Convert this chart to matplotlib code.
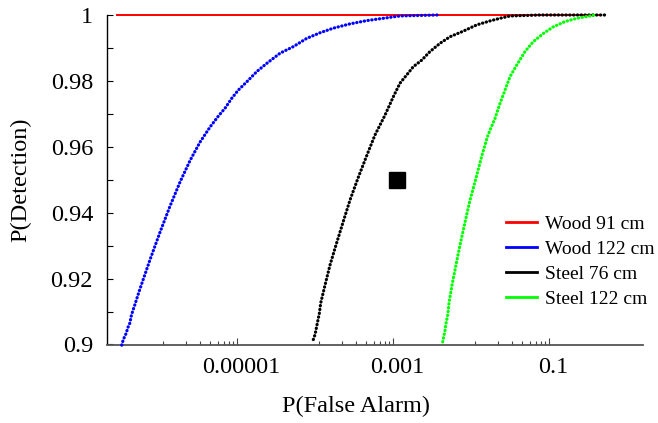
import numpy as np
import matplotlib
matplotlib.use("Agg")
import matplotlib.pyplot as plt
from matplotlib.lines import Line2D

# ---------------- data ----------------
series_names = ["Wood 91 cm", "Wood 122 cm", "Steel 76 cm", "Steel 122 cm"]
series_colors = ["#ff0000", "#0000ff", "#000000", "#00ff00"]

# log10 of P(False Alarm) and P(Detection) for each ROC curve
wood91_logpfa = [-6.59, -0.40]
wood91_pd = [1.0, 1.0]

wood122_logpfa = [-6.529, -6.509, -6.474, -6.449, -6.423, -6.410, -6.388, -6.363, -6.346,
                  -6.295, -6.167, -6.038, -5.910, -5.782, -5.654, -5.526, -5.397, -5.291,
                  -5.205, -5.119, -5.035, -4.927, -4.799, -4.671, -4.500, -4.329, -4.158,
                  -3.987, -3.817, -3.603, -3.388, -3.176, -2.962, -2.487]
wood122_pd = [0.8998, 0.9015, 0.9033, 0.9052, 0.9066, 0.9084, 0.9102, 0.9119, 0.9132,
              0.9169, 0.9257, 0.9341, 0.9420, 0.9493, 0.9558, 0.9614, 0.9660, 0.9693,
              0.9717, 0.9747, 0.9772, 0.9797, 0.9828, 0.9853, 0.9884, 0.9904, 0.9929,
              0.9946, 0.9960, 0.9973, 0.9983, 0.9990, 0.9997, 1.0]

steel76_logpfa = [-4.073, -4.051, -4.022, -4.009, -3.996, -3.978, -3.923, -3.859, -3.782,
                  -3.692, -3.603, -3.500, -3.385, -3.282, -3.154, -3.047, -2.962, -2.876,
                  -2.791, -2.683, -2.577, -2.449, -2.321, -2.150, -1.978, -1.808, -1.679,
                  -1.551, -1.167, -0.333]
steel76_pd = [0.9015, 0.9030, 0.9064, 0.9079, 0.9094, 0.9126, 0.9180, 0.9241, 0.9302,
              0.9371, 0.9438, 0.9505, 0.9575, 0.9636, 0.9696, 0.9752, 0.9793, 0.9818,
              0.9843, 0.9863, 0.9889, 0.9914, 0.9934, 0.9951, 0.9970, 0.9982, 0.9990,
              0.9997, 1.0, 1.0]

steel122_logpfa = [-2.414, -2.397, -2.385, -2.376, -2.350, -2.333, -2.295, -2.244, -2.192,
                   -2.128, -2.064, -1.987, -1.910, -1.833, -1.744, -1.679, -1.615, -1.551,
                   -1.465, -1.359, -1.253, -1.124, -0.996, -0.846, -0.696, -0.526, -0.462]
steel122_pd = [0.9008, 0.9028, 0.9041, 0.9059, 0.9089, 0.9126, 0.9180, 0.9241, 0.9302,
               0.9371, 0.9438, 0.9505, 0.9575, 0.9636, 0.9686, 0.9732, 0.9772, 0.9813,
               0.9848, 0.9889, 0.9919, 0.9944, 0.9964, 0.9980, 0.9990, 0.9997, 1.0]

# operating point (black square)
point_pfa = [0.001]
point_pd = [0.95]

ytick_values = [0.90, 0.91, 0.92, 0.93, 0.94, 0.95, 0.96, 0.97, 0.98, 0.99, 1.00]
ytick_labels = ["0.9", "", "0.92", "", "0.94", "", "0.96", "", "0.98", "", "1"]
xtick_values = [1e-5, 1e-3, 1e-1]
xtick_labels = ["0.00001", "0.001", "0.1"]
xminor_decades = [-6, -4, -2]
xminor_mult = [1, 2, 3, 4, 5, 6, 7, 8, 9]

# ---------------- figure ----------------
plt.rcParams["font.family"] = ["Liberation Serif", "DejaVu Serif"]
fig = plt.figure(figsize=(6.58, 4.23), dpi=100)
W, H = 658, 423
ax = fig.add_axes([107 / W, 1 - 344.5 / H, 536 / W, 329.5 / H])

curves = [(wood91_logpfa, wood91_pd), (wood122_logpfa, wood122_pd),
          (steel76_logpfa, steel76_pd), (steel122_logpfa, steel122_pd)]

for i, ((lx, pd_), col) in enumerate(zip(curves, series_colors)):
    x = 10.0 ** np.array(lx)
    if i == 0:
        ax.plot(x, pd_, color=col, lw=1.4, clip_on=False, zorder=2)
    else:
        ax.plot(x, pd_, color=col, lw=2.3, linestyle=(0, (0.1, 1.1)),
                dash_capstyle="round", clip_on=False, zorder=3 + i)

ax.plot(point_pfa, point_pd, marker="s", color="black", markersize=11,
        linestyle="none", zorder=10)

ax.set_xscale("log")
ax.set_xlim(10 ** -6.718, 10 ** 0.154)
ax.set_ylim(0.9, 1.0)

for s in ("top", "right"):
    ax.spines[s].set_visible(False)
ax.spines["bottom"].set_color("#555555")
ax.spines["bottom"].set_linewidth(1.3)
ax.spines["left"].set_linewidth(1.0)

ax.set_yticks(ytick_values)
ax.set_yticklabels(ytick_labels)
ax.tick_params(axis="y", direction="in", length=4.5, width=0.8, pad=10, labelsize=17.5)

minor_locs = [m * 10.0 ** d for d in xminor_decades for m in xminor_mult]
ax.set_xticks(xtick_values)
ax.set_xticklabels(xtick_labels)
ax.set_xticks(minor_locs, minor=True)
ax.xaxis.set_minor_formatter(matplotlib.ticker.NullFormatter())
ax.tick_params(axis="x", which="major", length=0, pad=9, labelsize=17.5)
ax.tick_params(axis="x", which="minor", direction="in", length=3, width=0.8, color="#444444")
for loc, t in zip(minor_locs, ax.xaxis.get_minor_ticks()):
    if abs(loc / 10 ** np.floor(np.log10(loc) + 1e-9) - 9) < 1e-6:
        t.tick1line.set_markersize(5)

ax.set_xlabel("P(False Alarm)", fontsize=17.5)
ax.xaxis.set_label_coords(0.465, -0.155)
ax.set_ylabel("P(Detection)", fontsize=17.5, labelpad=14)

handles = [Line2D([0], [0], color=c, lw=2) for c in series_colors]
fig.legend(handles, series_names, loc="upper left",
           bbox_to_anchor=(506 / W, 1 - 215 / H), bbox_transform=fig.transFigure,
           frameon=False, fontsize=14, handlelength=1.6, handletextpad=0.4,
           borderpad=0, borderaxespad=0, labelspacing=0.38)

fig.savefig("out.png", dpi=100)
